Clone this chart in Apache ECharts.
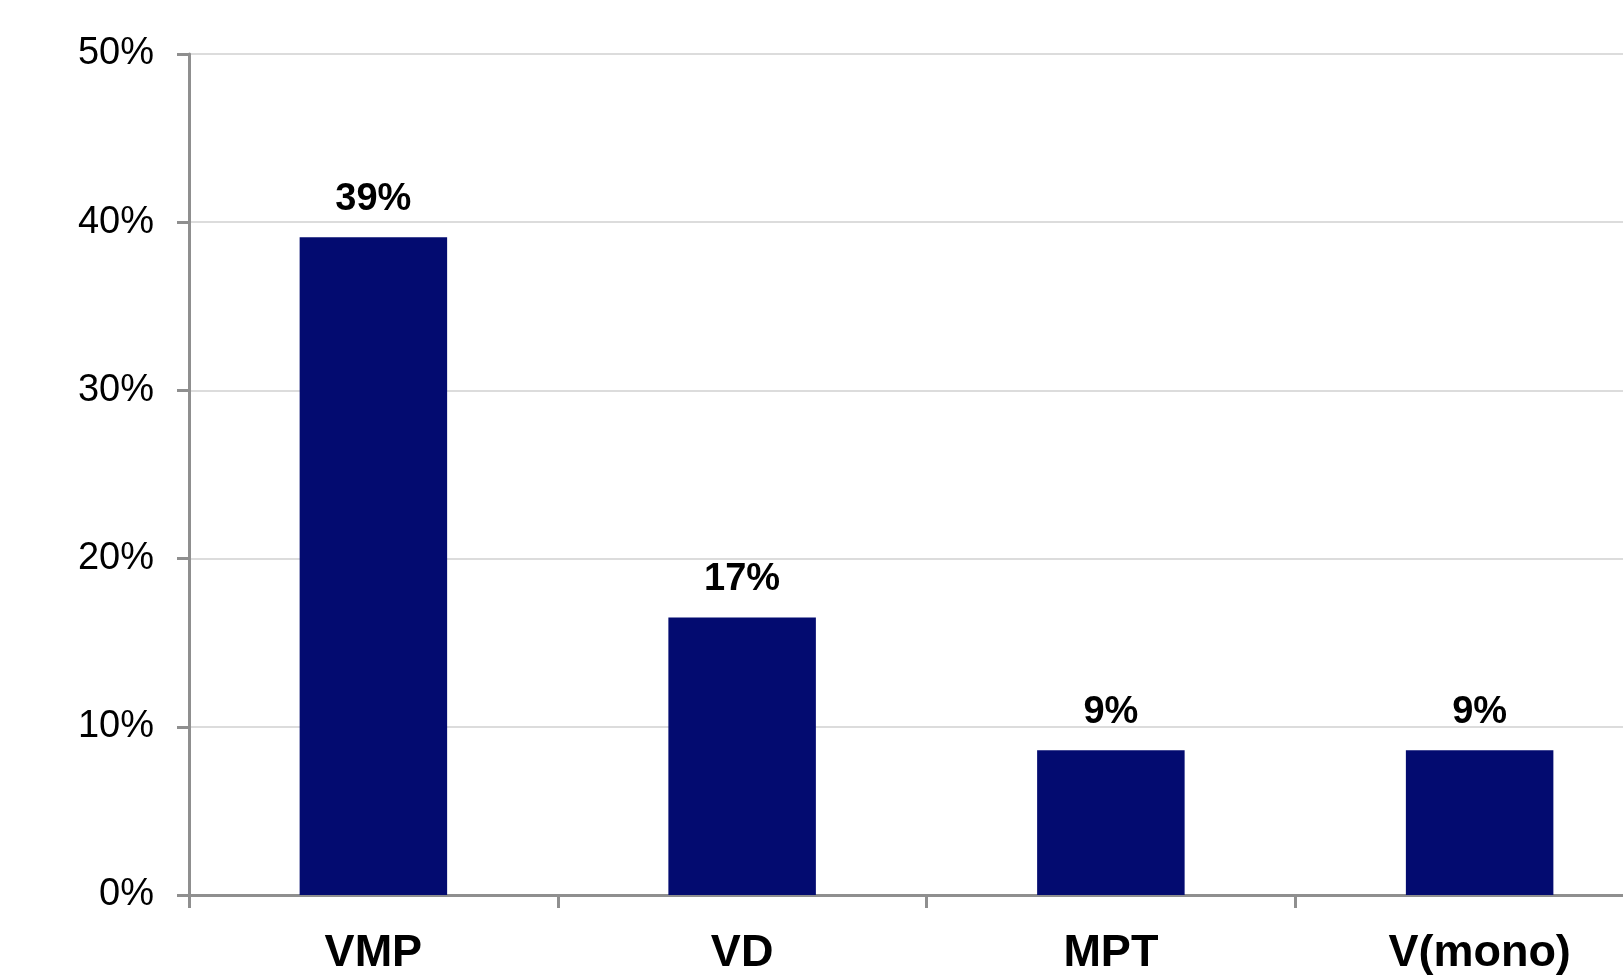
<!DOCTYPE html>
<html>
<head>
<meta charset="utf-8">
<script src="https://cdn.jsdelivr.net/npm/echarts@6/dist/echarts.min.js"></script>
<style>html,body{margin:0;padding:0;background:#fff;overflow:hidden}#c{width:1664px;height:976px}</style>
</head>
<body>
<div id="c"></div>
<script>
const categories = ['VMP', 'VD', 'MPT', 'V(mono)'];
const values = [39.1, 16.5, 8.6, 8.6];
const valueLabels = ['39%', '17%', '9%', '9%'];
const yTicks = [0, 10, 20, 30, 40, 50];

const chart = echarts.init(document.getElementById('c'), null, {renderer: 'canvas'});
chart.setOption({
  backgroundColor: '#ffffff',
  animation: false,
  grid: {left: 189, right: 0, top: 54, bottom: 79, containLabel: false},
  xAxis: {
    type: 'category',
    data: categories,
    boundaryGap: true,
    axisLine: {show: true, lineStyle: {color: '#8f8f8f', width: 3}},
    axisTick: {show: true, length: 13, alignWithLabel: false, lineStyle: {color: '#8f8f8f', width: 3}},
    axisLabel: {color: '#000', fontFamily: 'Liberation Sans, Arial, sans-serif', fontWeight: 'bold', fontSize: 45, margin: 36}
  },
  yAxis: {
    type: 'value',
    min: yTicks[0],
    max: yTicks[yTicks.length - 1],
    interval: 10,
    axisLine: {show: true, lineStyle: {color: '#8f8f8f', width: 3}},
    axisTick: {show: true, length: 12, lineStyle: {color: '#8f8f8f', width: 3}},
    splitLine: {show: true, lineStyle: {color: '#dcdcdc', width: 2}},
    axisLabel: {color: '#000', fontFamily: 'Liberation Sans, Arial, sans-serif', fontSize: 38, margin: 35, formatter: '{value}%'}
  },
  series: [{
    type: 'bar',
    data: values,
    barWidth: '40%',
    itemStyle: {color: '#030b70'},
    label: {
      show: true,
      position: 'top',
      distance: 19,
      color: '#000',
      fontFamily: 'Liberation Sans, Arial, sans-serif',
      fontWeight: 'bold',
      fontSize: 38,
      formatter: p => valueLabels[p.dataIndex]
    }
  }]
});
</script>
</body>
</html>
